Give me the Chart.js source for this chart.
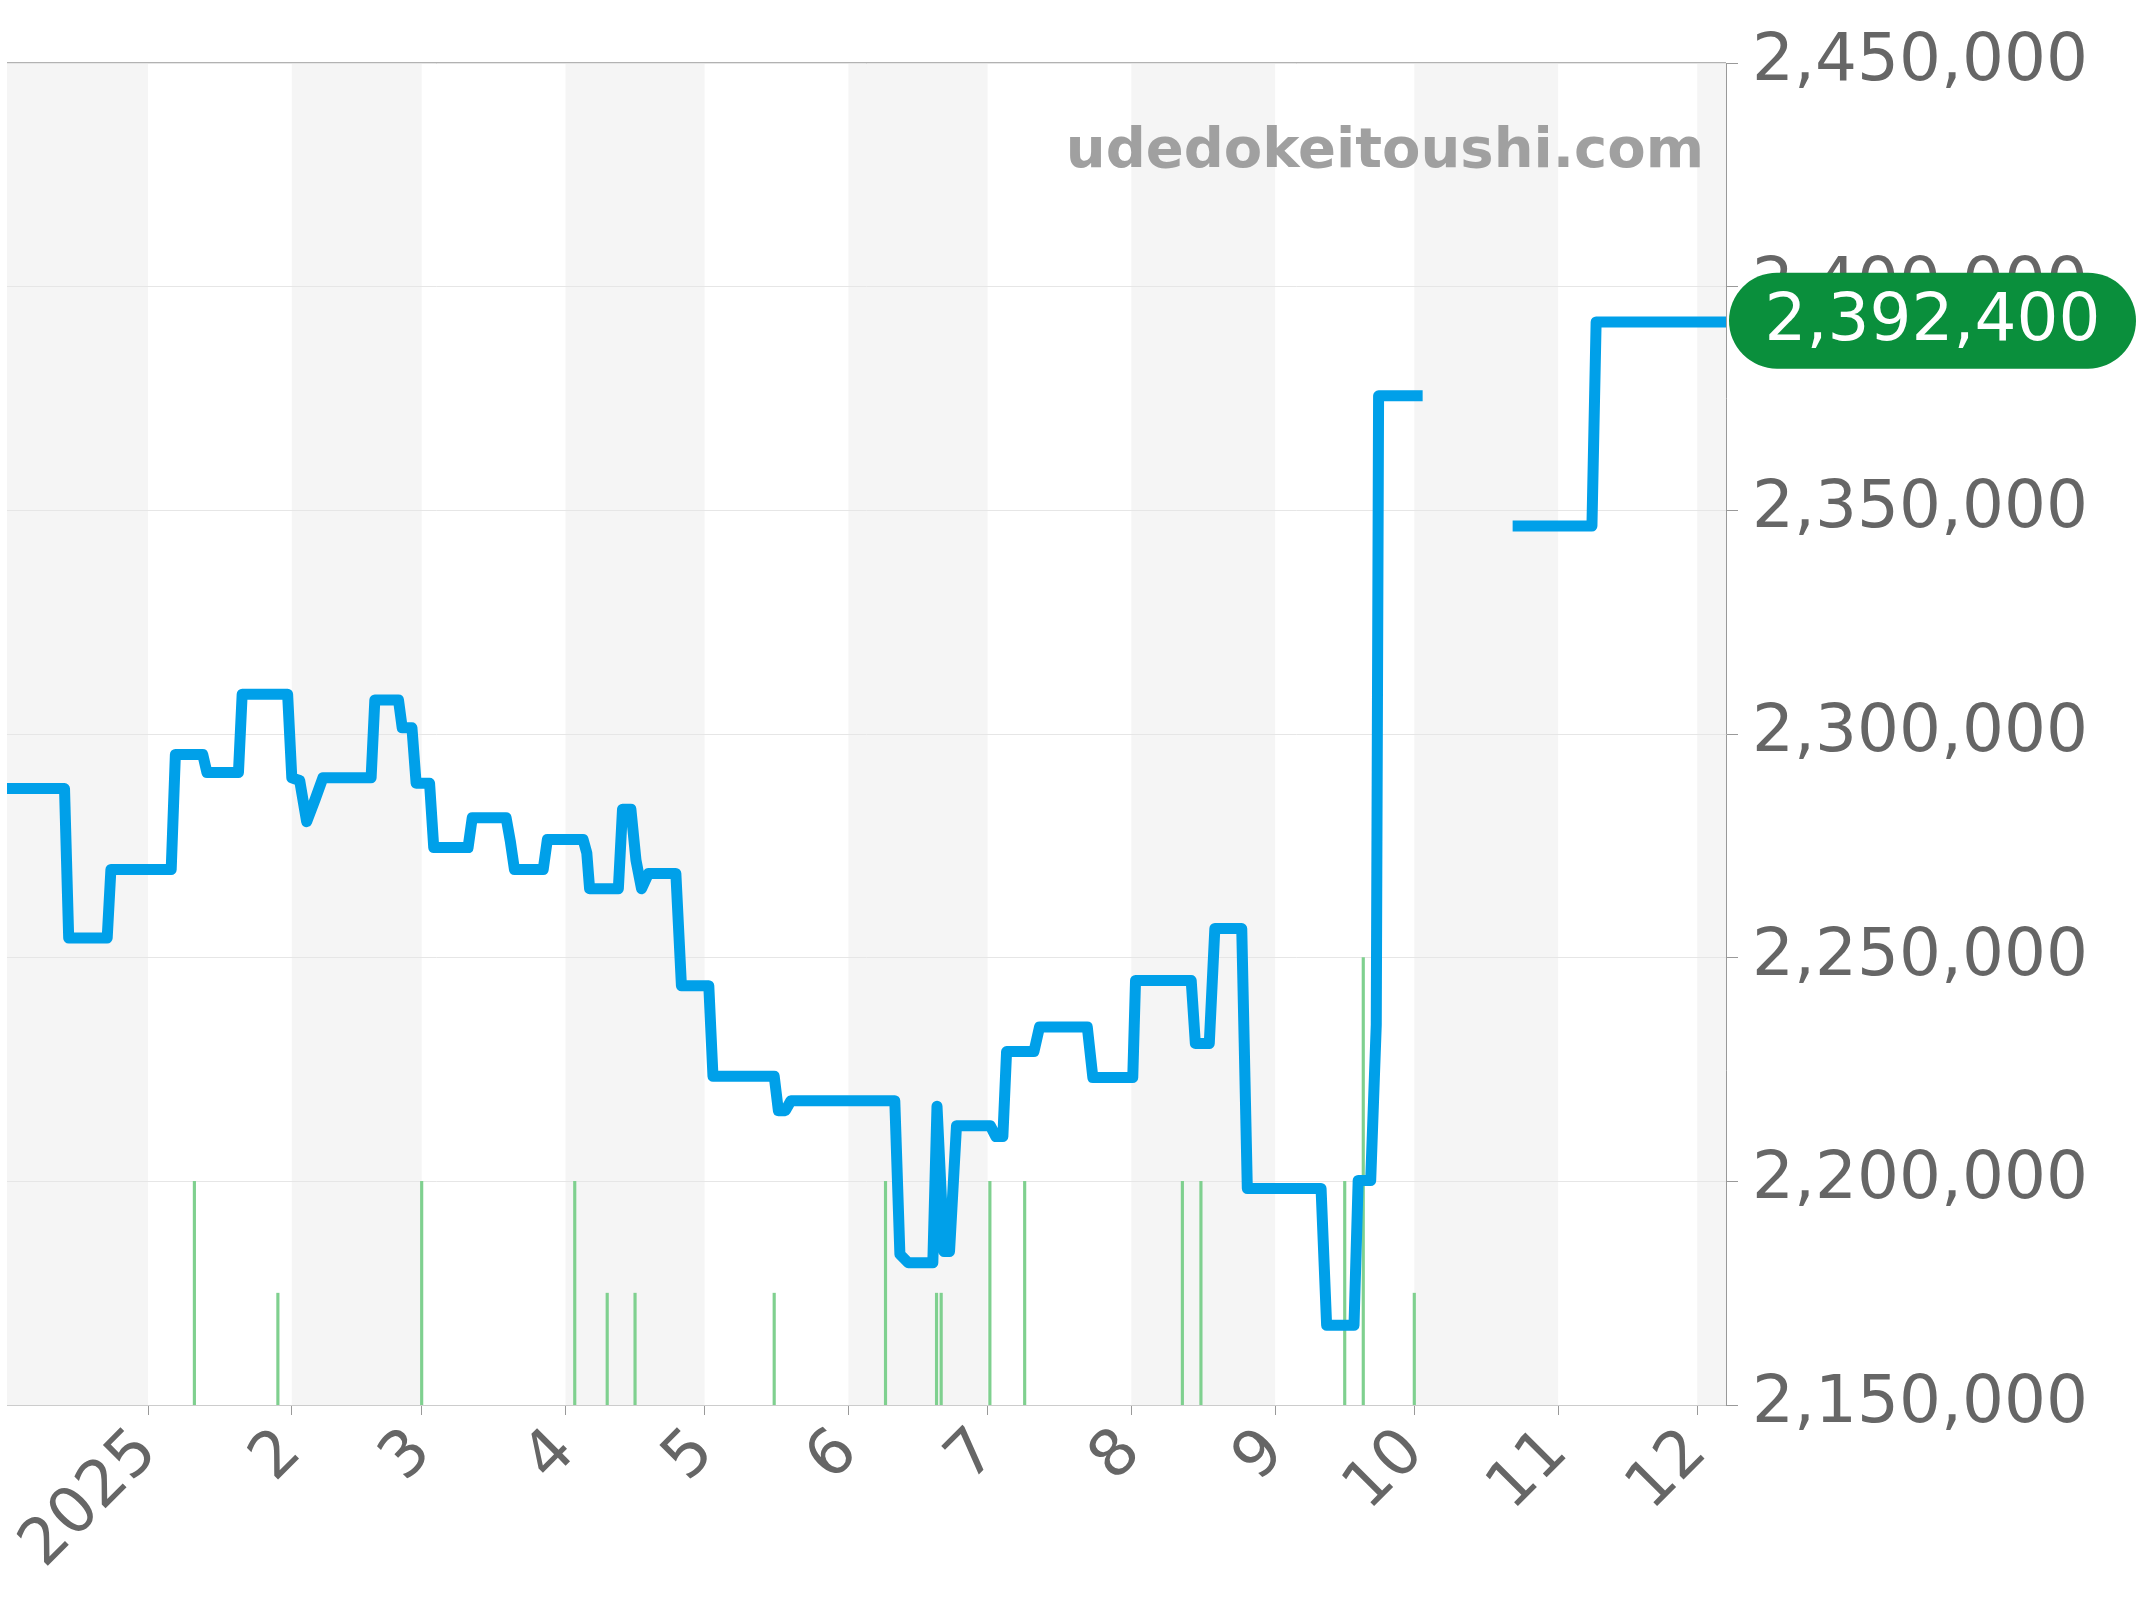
<!DOCTYPE html>
<html><head><meta charset="utf-8">
<script src="https://cdn.jsdelivr.net/npm/chart.js@4/dist/chart.umd.min.js"></script>
<style>html,body{margin:0;padding:0;background:#fff}#w{width:2144px;height:1600px}</style>
</head><body><div id="w"><canvas id="c"></canvas></div>
<script>
// x values: days since 2025-01-01
const priceDays = [-30.4,-18,-17.1,-8.8,-8,5,5.9,11.8,12.7,19.5,20.3,30.1,31,32.7,34.2,36,37.7,48.1,48.9,54,54.8,56.9,57.8,60.7,61.6,69,69.9,77.2,78.1,79,85.2,86.1,93.8,94.6,95.2,101.4,102.3,104.1,105.2,106.4,107.9,113.8,115,120.9,121.8,135,135.9,137.4,138.6,161,162.1,163.9,169.2,170.1,171.6,172.8,174.3,181.6,182.8,184.3,185.1,191,192.2,202.5,203.7,212.3,212.9,224.9,225.8,228.8,230,235.8,237,252.9,254.1,260,260.9,263.6,264.8,265.3,274.8,284,294.2,311.3,312.2,340.2];
const priceValues = [2287800,2287800,2254400,2254400,2269700,2269700,2295400,2295400,2291400,2291400,2308900,2308900,2290200,2289600,2280400,2285300,2290200,2290200,2307600,2307600,2301400,2301400,2289000,2289000,2274600,2274600,2281300,2281300,2276100,2269700,2269700,2276400,2276400,2273400,2265400,2265400,2283200,2283200,2271800,2265400,2268800,2268800,2243700,2243700,2223500,2223500,2215800,2215800,2218000,2218000,2183700,2181800,2181800,2216800,2184300,2184300,2212400,2212400,2210000,2210000,2229000,2229000,2234500,2234500,2223200,2223200,2244900,2244900,2230800,2230800,2256500,2256500,2198400,2198400,2167800,2167800,2200200,2200200,2235000,2375600,2375600,null,2346500,2346500,2392100,2392100];
const volDays = [10,28,59,92,99,105,135,159,170,171,181.5,189,223,227,258,262,273];
const volTops = [2200000,2175000,2200000,2200000,2175000,2175000,2175000,2200000,2175000,2175000,2200000,2200000,2200000,2200000,2200000,2250000,2175000];
const monthDays = [0,31,59,90,120,151,181,212,243,273,304,334];
const monthLabels = ["2025","2","3","4","5","6","7","8","9","10","11","12"];
const bandDays = [-31,0,31,59,90,120,151,181,212,243,273,304,334,365];
const yTicks = [2150000,2200000,2250000,2300000,2350000,2400000,2450000];
const lastPrice = 2392400;
const watermark = "udedokeitoushi.com";

const fmt = v => v.toLocaleString('en-US');
const bgPlugin = {id:'bg', beforeDraw(ch){
  const {ctx, chartArea:a, scales:{x}} = ch;
  ctx.save();
  for(let i=0;i<bandDays.length-1;i++){
    if(i%2===0){
      const l=Math.max(a.left,x.getPixelForValue(bandDays[i]));
      const r=Math.min(a.right,x.getPixelForValue(bandDays[i+1]));
      if(r>l){ctx.fillStyle='#f5f5f5';ctx.fillRect(l,a.top,r-l,a.bottom-a.top);}
    }
  }
  ctx.strokeStyle='#999';ctx.lineWidth=1.5;
  ctx.beginPath();ctx.moveTo(a.left,a.top);ctx.lineTo(a.right,a.top);ctx.stroke();
  ctx.font='bold 56px "DejaVu Sans"';ctx.fillStyle='#a0a0a0';ctx.textAlign='right';ctx.textBaseline='middle';
  ctx.fillText(watermark,a.right-22,152);
  ctx.restore();
}, afterDraw(ch){
  const {ctx, chartArea:a, scales:{y}} = ch;
  const py=y.getPixelForValue(lastPrice);
  const l=a.right+3, r=2136, h=96;
  ctx.save();ctx.fillStyle='#0a8f3c';
  ctx.beginPath();ctx.roundRect(l,py-h/2,r-l,h,h/2);ctx.fill();
  ctx.fillStyle='#fff';ctx.font='66px "DejaVu Sans"';ctx.textAlign='center';ctx.textBaseline='middle';
  ctx.fillText(fmt(lastPrice),(l+r)/2,py+2);
  ctx.restore();
}};

new Chart(document.getElementById('c'),{
  data:{datasets:[
    {type:'line',data:priceDays.map((d,i)=>({x:d,y:priceValues[i]})),borderColor:'#00a0e9',borderWidth:11,pointRadius:0,spanGaps:false,borderJoinStyle:'round',borderCapStyle:'butt',order:1},
    {type:'bar',data:volDays.map((d,i)=>({x:d,y:[2150000,volTops[i]]})),backgroundColor:'#7fd08f',barThickness:2.5,order:2}
  ]},
  plugins:[bgPlugin],
  options:{responsive:true,maintainAspectRatio:false,animation:false,
    layout:{padding:{left:7,top:63,right:0,bottom:0}},
    plugins:{legend:{display:false},tooltip:{enabled:false}},
    scales:{
      x:{type:'linear',min:-30.4,max:340.2,offset:false,bounds:'ticks',
        afterBuildTicks(s){s.ticks=monthDays.map(v=>({value:v}));},
        afterFit(s){s.height=195;},
        ticks:{callback:(v)=>monthLabels[monthDays.indexOf(v)],color:'#666',font:{size:64,family:'DejaVu Sans'},maxRotation:45,minRotation:45,autoSkip:false,padding:0},
        grid:{display:true,offset:false,drawOnChartArea:false,drawTicks:true,tickLength:10,color:'#999'},
        border:{color:'#ccc'}},
      y:{position:'right',min:2150000,max:2450000,
        afterBuildTicks(s){s.ticks=yTicks.map(v=>({value:v}));},
        afterFit(s){s.width=418;},
        ticks:{callback:v=>fmt(v),color:'#666',font:{size:66,family:'DejaVu Sans'},padding:14},
        grid:{color:'#e6e6e6',tickLength:12,tickColor:'#999'},
        border:{color:'#999'}}
    }}
});
</script></body></html>
